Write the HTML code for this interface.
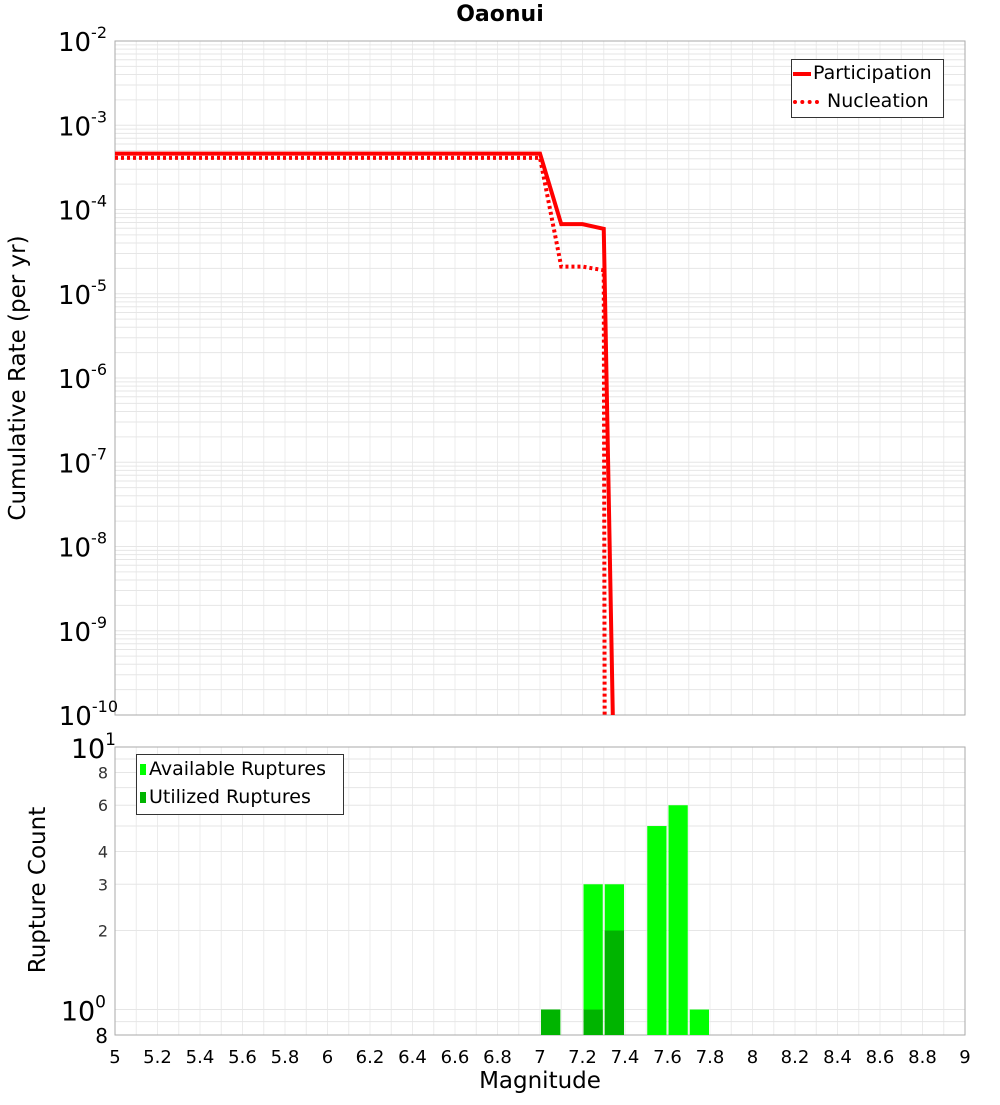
<!DOCTYPE html>
<html><head><meta charset="utf-8"><style>
body{margin:0;background:#fff;font-family:"Liberation Sans","DejaVu Sans",sans-serif}
svg text{font-family:"DejaVu Sans","Liberation Sans",sans-serif}
</style></head><body>
<svg id="c" width="1000" height="1100" xmlns="http://www.w3.org/2000/svg">
<defs>
<clipPath id="clipTop"><rect x="115" y="41" width="850" height="674"/></clipPath>
<clipPath id="clipBot"><rect x="115" y="747" width="850" height="288"/></clipPath>
</defs>
</svg>
<script>
const partMags=[5,7,7.1,7.2,7.3,7.35];
const partRates=[4.6e-4,4.6e-4,6.7e-5,6.7e-5,5.9e-5,1e-11];
const nuclMags=[5,7,7.1,7.2,7.3,7.305];
const nuclRates=[4.1e-4,4.1e-4,2.1e-5,2.1e-5,1.9e-5,1e-11];
const binMags=[7.05,7.25,7.35,7.55,7.65,7.75];
const availCounts=[1,3,3,5,6,1];
const usedCounts=[1,1,2,0,0,0];
const xTicks=[5,5.2,5.4,5.6,5.8,6,6.2,6.4,6.6,6.8,7,7.2,7.4,7.6,7.8,8,8.2,8.4,8.6,8.8,9];
const topExps=[-2,-3,-4,-5,-6,-7,-8,-9,-10];
const botMinorLabels=[2,3,4,6,8];

const NS="http://www.w3.org/2000/svg";
const svg=document.getElementById('c');
function el(tag,attrs,parent,text){const e=document.createElementNS(NS,tag);for(const k in attrs)e.setAttribute(k,attrs[k]);if(text!==undefined)e.textContent=text;(parent||svg).appendChild(e);return e;}
const X0=115,X1=965;
const xs=m=>X0+(m-5)/4*(X1-X0);
const TY0=41,TY1=715;
const ty=v=>TY0+(-2-Math.log10(v))*(TY1-TY0)/8;
const BY0=747,BY1=1035,BLO=Math.log10(0.8);
const by=v=>BY1-(Math.log10(v)-BLO)*(BY1-BY0)/(1-BLO);

const grid=el('g',{},svg);

for(let m=5;m<=9.001;m+=0.1){
  el('line',{x1:xs(m),x2:xs(m),y1:TY0,y2:TY1,stroke:'#ececec','stroke-width':1},grid);
  el('line',{x1:xs(m),x2:xs(m),y1:BY0,y2:BY1,stroke:'#ececec','stroke-width':1},grid);
}
for(let e=-10;e<-2;e++)for(let k=1;k<10;k++){const y=ty(k*Math.pow(10,e));el('line',{x1:X0,x2:X1,y1:y,y2:y,stroke:'#e6e6e6','stroke-width':1},grid);}
[0.8,0.9,1,2,3,4,5,6,7,8,9,10].forEach(v=>{const y=by(v);el('line',{x1:X0,x2:X1,y1:y,y2:y,stroke:'#e6e6e6','stroke-width':1},grid);});

const ft=el('rect',{x:X0,y:TY0,width:X1-X0,height:TY1-TY0,fill:'none',stroke:'#aaa'});

const fb=el('rect',{x:X0,y:BY0,width:X1-X0,height:BY1-BY0,fill:'none',stroke:'#aaa'});


const bw=xs(5.1)-xs(5);
const bars=el('g',{'clip-path':'url(#clipBot)'});
binMags.forEach((m,i)=>{
  if(availCounts[i]>0){const r=el('rect',{x:xs(m)-bw/2+1,y:by(availCounts[i]),width:bw-2,height:BY1-by(availCounts[i]),fill:'#00ff00'},bars);
  }
  if(usedCounts[i]>0){const r=el('rect',{x:xs(m)-bw/2+1,y:by(usedCounts[i]),width:bw-2,height:BY1-by(usedCounts[i]),fill:'#00b400'},bars);
  }
});

const lines=el('g',{'clip-path':'url(#clipTop)'});
const np=el('polyline',{points:nuclMags.map((m,i)=>xs(m)+','+ty(nuclRates[i])).join(' '),fill:'none',stroke:'#ff0000','stroke-width':4,'stroke-dasharray':'3,3'},lines);

const pp=el('polyline',{points:partMags.map((m,i)=>xs(m)+','+ty(partRates[i])).join(' '),fill:'none',stroke:'#ff0000','stroke-width':4},lines);


xTicks.forEach(t=>{const tx=el('text',{x:xs(t),y:1063,'font-size':18,'text-anchor':'middle'},svg,String(t));
});
topExps.forEach(e=>{const y=ty(Math.pow(10,e));const g=el('text',{x:e===-10?118:107,y:y+10,'font-size':26,'text-anchor':'end'});

el('tspan',{},g,'10');el('tspan',{dy:-13,'font-size':16},g,String(e));});
[[10,'1'],[1,'0']].forEach(([v,e])=>{const y=by(v);const g=el('text',{x:e==='1'?116:106,y:y+11,'font-size':27,'text-anchor':'end'});

el('tspan',{},g,'10');el('tspan',{dy:-13,'font-size':17},g,e);});
botMinorLabels.forEach(v=>{const t=el('text',{x:108,y:by(v)+6,'font-size':16,'text-anchor':'end',fill:'#333'},svg,String(v));
});
const t8=el('text',{x:108,y:1043,'font-size':20,'text-anchor':'end'},svg,'8');

</script>
<div style="position:absolute;left:0;top:0;width:1000px;height:1100px;pointer-events:none">
<div style="position:absolute;left:0;width:1000px;top:2px;text-align:center;font:bold 22px 'DejaVu Sans','Liberation Sans',sans-serif">Oaonui</div>
<div style="position:absolute;left:18px;top:378px;transform:translate(-50%,-50%) rotate(-90deg);white-space:nowrap;font:23px 'DejaVu Sans','Liberation Sans',sans-serif">Cumulative Rate (per yr)</div>
<div style="position:absolute;left:38px;top:890px;transform:translate(-50%,-50%) rotate(-90deg);white-space:nowrap;font:23px 'DejaVu Sans','Liberation Sans',sans-serif">Rupture Count</div>
<div style="position:absolute;left:0;width:1080px;top:1068px;text-align:center;font:23px 'DejaVu Sans','Liberation Sans',sans-serif">Magnitude</div>
<div style="position:absolute;left:791px;top:59px;width:151px;height:57px;border:1px solid #333;background:#fff;font:19px 'DejaVu Sans','Liberation Sans',sans-serif">
 <div style="position:absolute;left:1px;top:2px;white-space:nowrap"><span style="display:inline-block;width:18px;border-top:4px solid #f00;vertical-align:middle;margin-right:2px"></span>Participation</div>
 <div style="position:absolute;left:1px;top:30px;white-space:nowrap"><span style="display:inline-block;width:26px;border-top:4px dotted #f00;vertical-align:middle;margin-right:8px"></span>Nucleation</div>
</div>
<div style="position:absolute;left:136px;top:754px;width:206px;height:59px;border:1px solid #333;background:#fff;font:19px 'DejaVu Sans','Liberation Sans',sans-serif">
 <div style="position:absolute;left:3px;top:3px;white-space:nowrap"><span style="display:inline-block;width:6px;height:11px;background:#00ff00;margin-right:3px"></span>Available Ruptures</div>
 <div style="position:absolute;left:3px;top:31px;white-space:nowrap"><span style="display:inline-block;width:6px;height:11px;background:#00b400;margin-right:3px"></span>Utilized Ruptures</div>
</div>
</div>
</body></html>
